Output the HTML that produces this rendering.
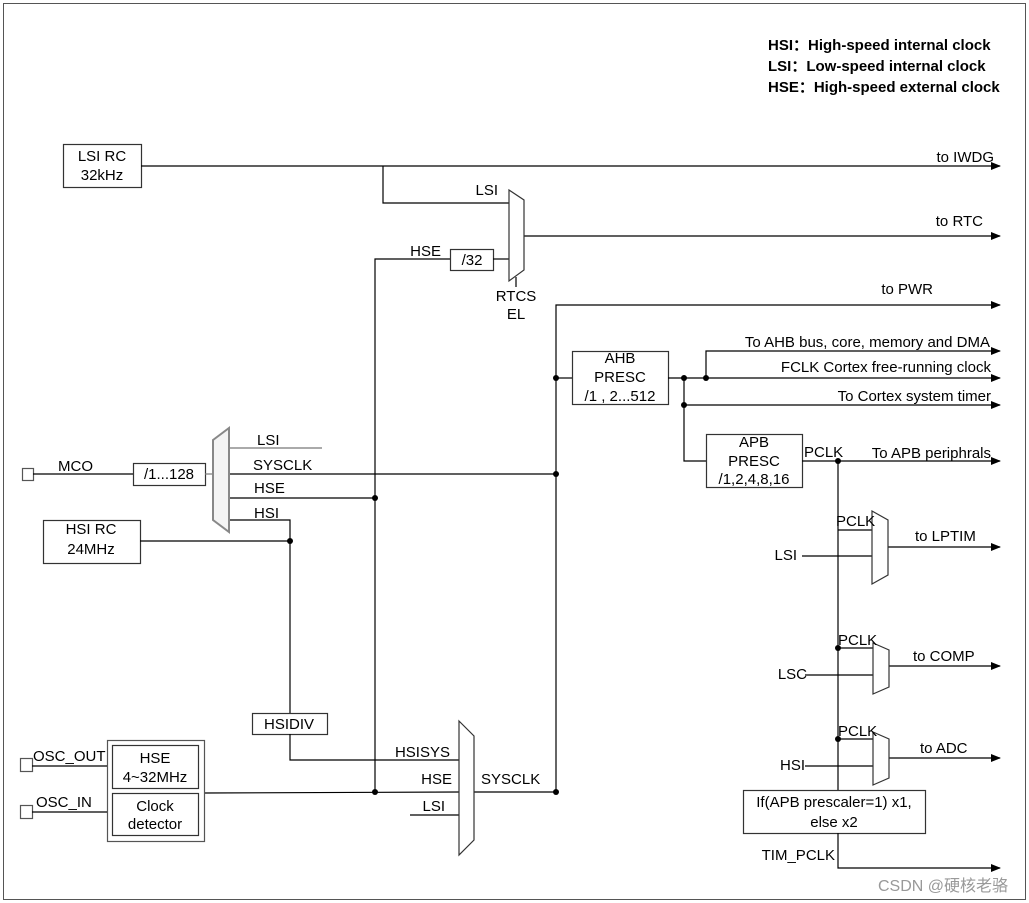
<!DOCTYPE html>
<html><head><meta charset="utf-8"><style>
html,body{margin:0;padding:0;background:#fff;}
svg{display:block;}
text{font-family:"Liberation Sans",Arial,sans-serif;font-size:15px;fill:#000;}
</style></head><body>
<svg width="1029" height="903" viewBox="0 0 1029 903" xmlns="http://www.w3.org/2000/svg">
<defs><marker id="a" markerWidth="10" markerHeight="8" refX="9" refY="4" orient="auto" markerUnits="userSpaceOnUse"><path d="M0,0 L10,4 L0,8 z" fill="#000"/></marker></defs>
<rect x="3.5" y="3.5" width="1022" height="896" fill="none" stroke="#555" stroke-width="1"/>
<text x="768" y="50" font-weight="bold">HSI：High-speed internal clock</text>
<text x="768" y="71" font-weight="bold">LSI：Low-speed internal clock</text>
<text x="768" y="92" font-weight="bold">HSE：High-speed external clock</text>
<g stroke="#000" stroke-width="1.2" fill="none">
<rect x="63.5" y="144.5" width="78" height="43" stroke="#333"/>
<line x1="141" y1="166" x2="1000" y2="166" marker-end="url(#a)"/>
<polyline points="383,166 383,203 509,203"/>
<polyline points="375,792 375,259 450,259"/>
<rect x="450.5" y="249.5" width="43" height="21" stroke="#333"/>
<line x1="493" y1="259" x2="509" y2="259"/>
<line x1="516" y1="277" x2="516" y2="287"/>
<line x1="524" y1="236" x2="1000" y2="236" marker-end="url(#a)"/>
<polyline points="556,792 556,305 1000,305" marker-end="url(#a)"/>
<line x1="556" y1="378" x2="572" y2="378"/>
<rect x="572.5" y="351.5" width="96" height="53" stroke="#333"/>
<line x1="668" y1="378" x2="1000" y2="378" marker-end="url(#a)"/>
<polyline points="706,378 706,351 1000,351" marker-end="url(#a)"/>
<polyline points="684,378 684,461 706,461"/>
<line x1="684" y1="405" x2="1000" y2="405" marker-end="url(#a)"/>
<rect x="706.5" y="434.5" width="96" height="53" stroke="#333"/>
<line x1="802" y1="461" x2="1000" y2="461" marker-end="url(#a)"/>
<line x1="838" y1="461" x2="838" y2="790"/>
<line x1="838" y1="530" x2="872" y2="530"/>
<line x1="802" y1="556" x2="872" y2="556"/>
<line x1="888" y1="547" x2="1000" y2="547" marker-end="url(#a)"/>
<line x1="838" y1="648" x2="873" y2="648"/>
<line x1="805" y1="675" x2="873" y2="675"/>
<line x1="889" y1="666" x2="1000" y2="666" marker-end="url(#a)"/>
<line x1="838" y1="739" x2="873" y2="739"/>
<line x1="805" y1="766" x2="873" y2="766"/>
<line x1="889" y1="758" x2="1000" y2="758" marker-end="url(#a)"/>
<rect x="743.5" y="790.5" width="182" height="43" stroke="#333"/>
<polyline points="838,833 838,868 1000,868" marker-end="url(#a)"/>
<rect x="22.5" y="468.5" width="11" height="12" stroke="#555"/>
<line x1="33" y1="474" x2="133" y2="474"/>
<rect x="133.5" y="463.5" width="72" height="22" stroke="#333"/>
<line x1="205" y1="474" x2="214" y2="474" stroke="#777"/>
<line x1="229" y1="448" x2="322" y2="448" stroke="#777"/>
<line x1="229" y1="474" x2="556" y2="474"/>
<line x1="229" y1="498" x2="375" y2="498"/>
<polyline points="229,520 290,520 290,713"/>
<rect x="43.5" y="520.5" width="97" height="43" stroke="#333"/>
<line x1="140" y1="541" x2="290" y2="541"/>
<rect x="252.5" y="713.5" width="75" height="21" stroke="#333"/>
<polyline points="290,734 290,760 459,760"/>
<line x1="204" y1="793" x2="459" y2="792"/>
<line x1="410" y1="815" x2="459" y2="815"/>
<line x1="474" y1="792" x2="556" y2="792"/>
<rect x="107.5" y="740.5" width="97" height="101" stroke="#555"/>
<rect x="112.5" y="745.5" width="86" height="43" stroke="#333"/>
<rect x="112.5" y="793.5" width="86" height="42" stroke="#333"/>
<rect x="20.5" y="758.5" width="12" height="13" stroke="#555"/>
<line x1="32" y1="766" x2="107" y2="766"/>
<rect x="20.5" y="805.5" width="12" height="13" stroke="#555"/>
<line x1="32" y1="812" x2="107" y2="812"/>
</g>
<g fill="#fff" stroke="#333" stroke-width="1.2">
<polygon points="509,190 524,200 524,270 509,281"/>
<polygon points="872,511 888,520 888,575 872,584"/>
<polygon points="873,643 889,650 889,687 873,694"/>
<polygon points="873,732 889,739 889,778 873,785"/>
<polygon points="459,721 474,736 474,840 459,855"/>
</g>
<polygon points="213,440 229,428 229,532 213,520" fill="#f4f4f4" stroke="#888" stroke-width="2"/>
<g fill="#000">
<circle cx="556" cy="378" r="3"/><circle cx="556" cy="474" r="3"/><circle cx="556" cy="792" r="3"/>
<circle cx="684" cy="378" r="3"/><circle cx="706" cy="378" r="3"/><circle cx="684" cy="405" r="3"/>
<circle cx="838" cy="461" r="3"/><circle cx="838" cy="648" r="3"/><circle cx="838" cy="739" r="3"/>
<circle cx="375" cy="498" r="3"/><circle cx="375" cy="792" r="3"/><circle cx="290" cy="541" r="3"/>
</g>
<g text-anchor="middle">
<text x="102" y="161">LSI RC</text><text x="102" y="180">32kHz</text>
<text x="472" y="265">/32</text>
<text x="516" y="301">RTCS</text><text x="516" y="319">EL</text>
<text x="620" y="363">AHB</text><text x="620" y="382">PRESC</text><text x="620" y="401">/1 , 2...512</text>
<text x="754" y="447">APB</text><text x="754" y="466">PRESC</text><text x="754" y="484">/1,2,4,8,16</text>
<text x="834" y="807">If(APB prescaler=1) x1,</text><text x="834" y="827">else x2</text>
<text x="169" y="479">/1...128</text>
<text x="91" y="534">HSI RC</text><text x="91" y="554">24MHz</text>
<text x="289" y="729">HSIDIV</text>
<text x="155" y="763">HSE</text><text x="155" y="782">4~32MHz</text>
<text x="155" y="811">Clock</text><text x="155" y="829">detector</text>
</g>
<g text-anchor="end">
<text x="994" y="162">to IWDG</text>
<text x="983" y="226">to RTC</text>
<text x="933" y="294">to PWR</text>
<text x="990" y="347">To AHB bus, core, memory and DMA</text>
<text x="991" y="372">FCLK Cortex free-running clock</text>
<text x="991" y="401">To Cortex system timer</text>
<text x="991" y="458">To APB periphrals</text>
<text x="498" y="195">LSI</text>
<text x="441" y="256">HSE</text>
<text x="450" y="757">HSISYS</text>
<text x="452" y="784">HSE</text>
<text x="445" y="811">LSI</text>
<text x="797" y="560">LSI</text>
<text x="807" y="679">LSC</text>
<text x="805" y="770">HSI</text>
<text x="835" y="860">TIM_PCLK</text>
</g>
<text x="804" y="457">PCLK</text>
<text x="836" y="526">PCLK</text>
<text x="838" y="645">PCLK</text>
<text x="838" y="736">PCLK</text>
<text x="915" y="541">to LPTIM</text>
<text x="913" y="661">to COMP</text>
<text x="920" y="753">to ADC</text>
<text x="58" y="471">MCO</text>
<text x="257" y="445">LSI</text>
<text x="253" y="470">SYSCLK</text>
<text x="254" y="493">HSE</text>
<text x="254" y="518">HSI</text>
<text x="481" y="784">SYSCLK</text>
<text x="33" y="761">OSC_OUT</text>
<text x="36" y="807">OSC_IN</text>
<text x="878" y="891" style="font-family:'Liberation Sans','Noto Sans CJK SC',sans-serif;font-size:16px;fill:#999">CSDN @硬核老骆</text>
</svg>
</body></html>
